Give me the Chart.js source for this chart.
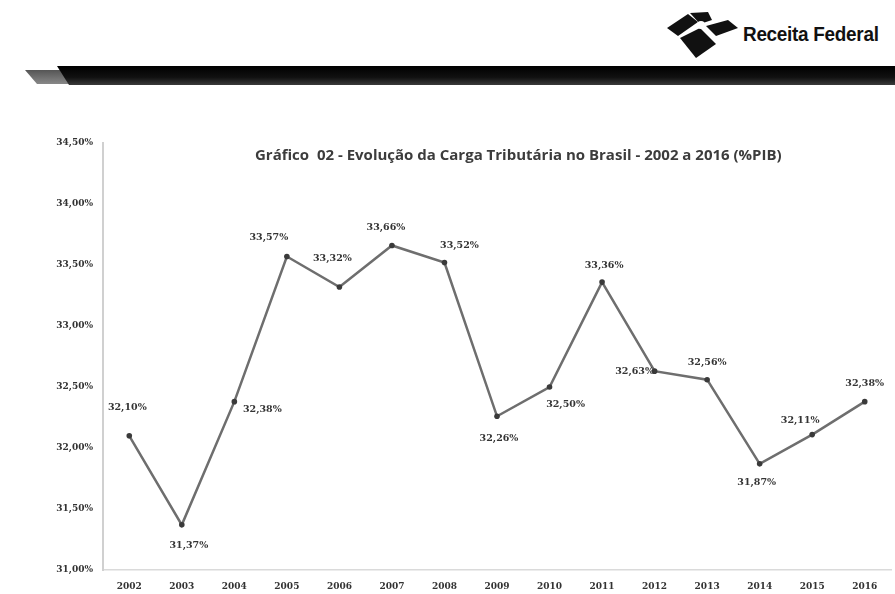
<!DOCTYPE html>
<html>
<head>
<meta charset="utf-8">
<script src="https://cdn.jsdelivr.net/npm/chart.js@4/dist/chart.umd.min.js"></script>
<style>
  html, body { margin: 0; padding: 0; background: #fff; }
  #page { position: relative; width: 895px; height: 594px; overflow: hidden; background: #fff; }
  #logo { position: absolute; left: 664px; top: 10px; }
  #logoText {
    position: absolute; left: 743px; top: 22px;
    font-family: "Liberation Sans", Arial, sans-serif; font-weight: bold; font-size: 21px;
    color: #111; transform: scaleX(0.9); transform-origin: left top; white-space: nowrap;
    letter-spacing: -0.3px;
  }
  #stripeGray { position: absolute; left: 25px; top: 70px; width: 50px; height: 14px;
    background: linear-gradient(#555, #888); clip-path: polygon(0 0, 100% 0, 100% 100%, 24% 100%); }
  #stripeBlack { position: absolute; left: 57px; top: 66px; width: 840px; height: 19px;
    background: linear-gradient(#000 0%, #111 60%, #3a3a3a 100%); clip-path: polygon(0 0, 100% 0, 100% 100%, 12px 100%); }
  #title {
    position: absolute; left: 255px; top: 144px;
    font-family: "Open Sans", sans-serif; font-weight: bold; font-size: 15px; color: #3c3c3c;
    white-space: nowrap;
  }
  #wrap { position: absolute; left: 0; top: 120px; width: 895px; height: 474px; }
</style>
</head>
<body>
<div id="page">
  <svg id="logo" width="80" height="52" viewBox="0 0 80 52">
    <polygon points="3,18 24,4 34,12 14,26" fill="#111"/>
    <polygon points="26,3 44,2 48,10 36,14" fill="#111"/>
    <polygon points="42,16 64,10 74,18 52,26" fill="#111"/>
    <polygon points="16,28 36,18 52,34 32,48" fill="#111"/>
    <circle cx="37" cy="15" r="4" fill="#fff"/>
  </svg>
  <div id="logoText">Receita Federal</div>
  <div id="stripeGray"></div>
  <div id="stripeBlack"></div>
  <div id="wrap"><canvas id="chart"></canvas></div>
  <div id="title">Gráfico&nbsp; 02 - Evolução da Carga Tributária no Brasil - 2002 a 2016 (%PIB)</div>
</div>
<script>
const years = ["2002","2003","2004","2005","2006","2007","2008","2009","2010","2011","2012","2013","2014","2015","2016"];
const cargaPIB = [32.10, 31.37, 32.38, 33.57, 33.32, 33.66, 33.52, 32.26, 32.50, 33.36, 32.63, 32.56, 31.87, 32.11, 32.38];
const yTicks = [31.0, 31.5, 32.0, 32.5, 33.0, 33.5, 34.0, 34.5];

// where each value label sits relative to its point (dx, dy in px)
const labelOffsets = [
  [-2,-28],[7,21],[28,8],[-18,-19],[-7,-28],[-6,-18],[15,-17],
  [2,22],[16,18],[2,-17],[-20,0],[0,-17],[-3,19],[-12,-14],[0,-18]
];

const fmt = v => v.toFixed(2).replace(".", ",") + "%";

const valueLabels = {
  id: "valueLabels",
  afterDatasetsDraw(chart) {
    const ctx = chart.ctx;
    const meta = chart.getDatasetMeta(0);
    ctx.save();
    ctx.font = "bold 9.5px 'DejaVu Serif'";
    ctx.fillStyle = "#353535";
    ctx.textAlign = "center";
    ctx.textBaseline = "middle";
    meta.data.forEach((pt, i) => {
      const o = labelOffsets[i];
      ctx.fillText(fmt(cargaPIB[i]), pt.x + o[0], pt.y + o[1]);
    });
    ctx.restore();
  }
};

const ctx = document.getElementById("chart").getContext("2d");
new Chart(ctx, {
  type: "line",
  data: {
    labels: years,
    datasets: [{
      data: cargaPIB,
      borderColor: "#6e6e6e",
      borderWidth: 2.5,
      pointRadius: 2.8,
      pointBackgroundColor: "#3a3a3a",
      pointBorderColor: "#3a3a3a",
      pointBorderWidth: 0,
      tension: 0,
      fill: false
    }]
  },
  options: {
    responsive: true,
    maintainAspectRatio: false,
    animation: false,
    layout: { padding: { top: 23, right: 0, left: 0, bottom: 0 } },
    plugins: { legend: { display: false }, tooltip: { enabled: false } },
    scales: {
      x: {
        offset: true,
        grid: { display: false, drawTicks: false },
        border: { display: true, color: "#dadada", width: 1.5 },
        ticks: {
          color: "#333",
          font: { family: "DejaVu Serif", weight: "bold", size: 9 },
          padding: 11,
          maxRotation: 0,
          autoSkip: false
        },
        afterFit: s => { s.height = 24; }
      },
      y: {
        min: yTicks[0],
        max: yTicks[yTicks.length - 1],
        afterBuildTicks: s => { s.ticks = yTicks.map(v => ({ value: v })); },
        grid: { display: false, drawTicks: false },
        border: { display: true, color: "#d0d0d0", width: 2 },
        ticks: {
          color: "#333",
          font: { family: "DejaVu Serif", weight: "bold", size: 9 },
          padding: 10,
          callback: v => fmt(v)
        },
        afterFit: s => { s.width = 103; }
      }
    }
  },
  plugins: [valueLabels]
});
</script>
</body>
</html>
